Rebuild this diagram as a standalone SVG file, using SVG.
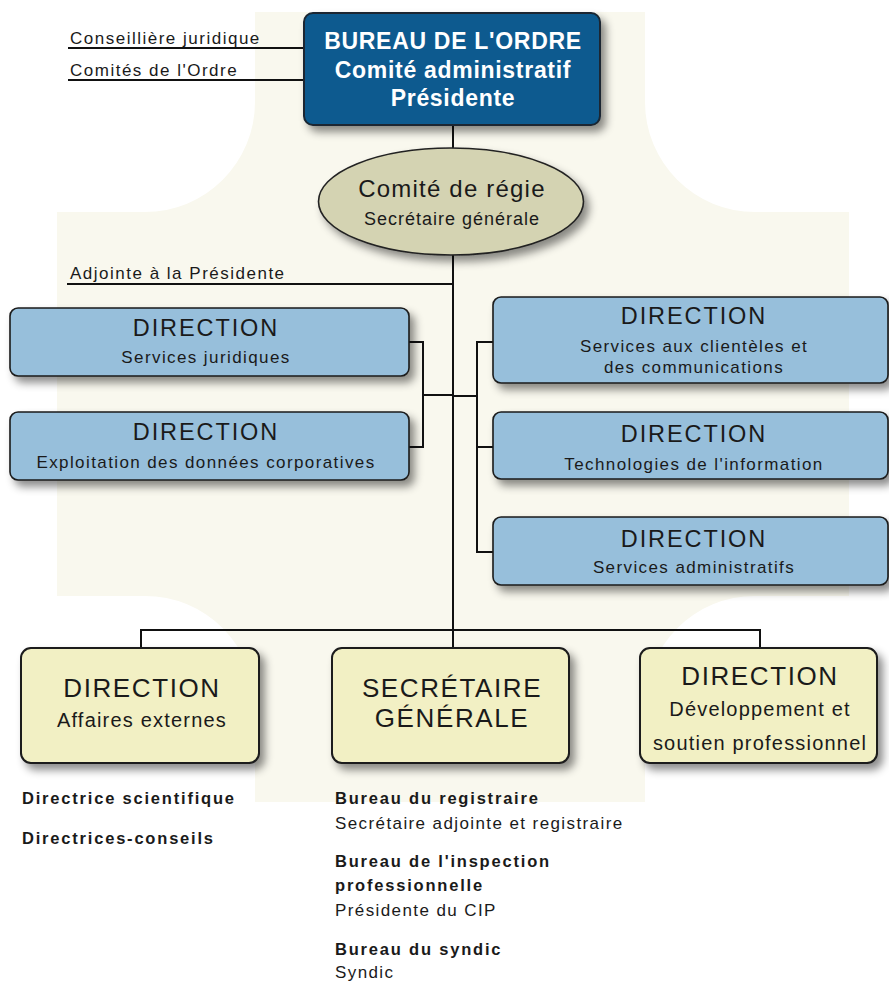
<svg xmlns="http://www.w3.org/2000/svg" width="889" height="983" viewBox="0 0 889 983">
<defs>
<filter id="sh" x="-10%" y="-10%" width="130%" height="150%">
<feDropShadow dx="5" dy="6" stdDeviation="4" flood-color="#000" flood-opacity="0.45"/>
</filter>
</defs>
<style>
text{font-family:"Liberation Sans",Arial,sans-serif;fill:#1a1a1a}
.lbl{font-size:17px;letter-spacing:1.5px}
.top{font-size:23px;font-weight:bold;letter-spacing:0.7px;fill:#fff}
.ell1{font-size:24px;letter-spacing:1.2px}
.ell2{font-size:18px;letter-spacing:1px}
.dir{font-size:23.5px;letter-spacing:1.9px}
.sub{font-size:17px;letter-spacing:1.4px}
.big{font-size:26px;letter-spacing:1.6px}
.bsub{font-size:20px;letter-spacing:1.2px}
.bold{font-size:16.5px;font-weight:bold;letter-spacing:1.8px}
.reg{font-size:17px;letter-spacing:1.4px}
.c{text-anchor:middle}
.ln{stroke:#111;stroke-width:2;fill:none}
.blue{fill:#97bfdb;stroke:#1a1a1a;stroke-width:1.6;filter:url(#sh)}
.yel{fill:#f2f0c4;stroke:#1a1a1a;stroke-width:2;filter:url(#sh)}
</style>
<rect width="889" height="983" fill="#fff"/>
<path id="watermark" fill="#f9f8ee" d="M255,12 H645 V102 A110,110 0 0 0 755,212 H849 V596 H755 A110,110 0 0 0 645,706 V802 H255 V706 A110,110 0 0 0 145,596 H57 V212 H145 A110,110 0 0 0 255,102 Z"/>

<g id="connectors" class="ln">
<line x1="68" y1="48" x2="305" y2="48"/>
<line x1="68" y1="80" x2="305" y2="80"/>
<line x1="453" y1="125" x2="453" y2="148"/>
<line x1="453" y1="255" x2="453" y2="648"/>
<line x1="67" y1="284" x2="453" y2="284"/>
<path d="M409,342 H423 V447 H409"/>
<line x1="423" y1="395" x2="453" y2="395"/>
<line x1="453" y1="396" x2="477" y2="396"/>
<path d="M493,342 H477 V552 H493"/>
<line x1="477" y1="447" x2="493" y2="447"/>
<path d="M141,648 V630 H760 V648"/>
</g>

<g id="labels">
<text class="lbl" x="70" y="44">Conseillière juridique</text>
<text class="lbl" x="70" y="76">Comités de l'Ordre</text>
<text class="lbl" x="70" y="279">Adjointe à la Présidente</text>
</g>

<g id="bureau">
<rect x="304" y="13" width="296" height="112" rx="9" fill="#085a8f" stroke="#1a2633" stroke-width="2" filter="url(#sh)"/>
<text class="top c" x="453" y="49">BUREAU DE L'ORDRE</text>
<text class="top c" x="453" y="78">Comité administratif</text>
<text class="top c" x="453" y="106">Présidente</text>
</g>

<g id="regie">
<ellipse cx="451" cy="201.5" rx="132.5" ry="53.5" fill="#d4d3b2" stroke="#222" stroke-width="1.6" filter="url(#sh)"/>
<text class="ell1 c" x="452" y="197">Comité de régie</text>
<text class="ell2 c" x="452" y="225">Secrétaire générale</text>
</g>

<g id="dir-juridiques">
<rect class="blue" x="10" y="308" width="399" height="68" rx="8"/>
<text class="dir c" x="206" y="336">DIRECTION</text>
<text class="sub c" x="206" y="363">Services juridiques</text>
</g>

<g id="dir-donnees">
<rect class="blue" x="10" y="412" width="399" height="68" rx="8"/>
<text class="dir c" x="206" y="440">DIRECTION</text>
<text class="sub c" x="206" y="468">Exploitation des données corporatives</text>
</g>

<g id="dir-clienteles">
<rect class="blue" x="493" y="297" width="395" height="86" rx="8"/>
<text class="dir c" x="694" y="324">DIRECTION</text>
<text class="sub c" x="694" y="352">Services aux clientèles et</text>
<text class="sub c" x="694" y="373">des communications</text>
</g>

<g id="dir-ti">
<rect class="blue" x="493" y="412" width="395" height="67" rx="8"/>
<text class="dir c" x="694" y="442">DIRECTION</text>
<text class="sub c" x="694" y="470">Technologies de l'information</text>
</g>

<g id="dir-admin">
<rect class="blue" x="493" y="517" width="395" height="68" rx="8"/>
<text class="dir c" x="694" y="547">DIRECTION</text>
<text class="sub c" x="694" y="573">Services administratifs</text>
</g>

<g id="dir-externes">
<rect class="yel" x="21" y="648" width="238" height="115" rx="10"/>
<text class="big c" x="142" y="697">DIRECTION</text>
<text class="bsub c" x="142" y="727">Affaires externes</text>
</g>

<g id="secretaire">
<rect class="yel" x="332" y="648" width="237" height="115" rx="10"/>
<text class="big c" x="452" y="697">SECRÉTAIRE</text>
<text class="big c" x="452" y="727">GÉNÉRALE</text>
</g>

<g id="dir-developpement">
<rect class="yel" x="640" y="648" width="237" height="115" rx="10"/>
<text class="big c" x="760" y="685">DIRECTION</text>
<text class="bsub c" x="760" y="716">Développement et</text>
<text class="bsub c" x="760" y="750">soutien professionnel</text>
</g>

<g id="list-left">
<text class="bold" x="22" y="804">Directrice scientifique</text>
<text class="bold" x="22" y="844">Directrices-conseils</text>
</g>

<g id="list-middle">
<text class="bold" x="335" y="804">Bureau du registraire</text>
<text class="reg" x="335" y="829">Secrétaire adjointe et registraire</text>
<text class="bold" x="335" y="867">Bureau de l'inspection</text>
<text class="bold" x="335" y="891">professionnelle</text>
<text class="reg" x="335" y="916">Présidente du CIP</text>
<text class="bold" x="335" y="955">Bureau du syndic</text>
<text class="reg" x="335" y="978">Syndic</text>
</g>
</svg>
